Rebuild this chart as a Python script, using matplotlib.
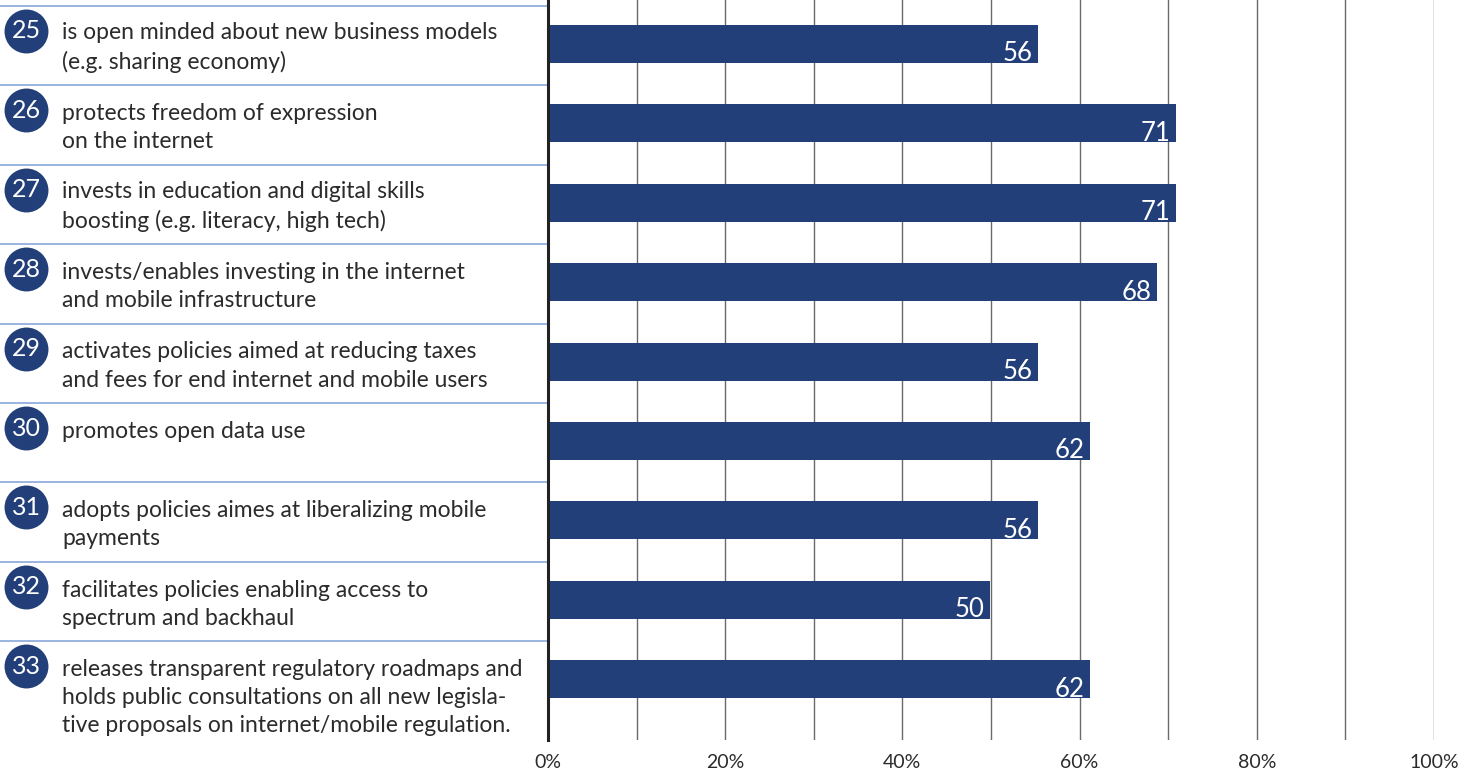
import matplotlib
matplotlib.use("Agg")
import matplotlib.pyplot as plt

plt.rcParams['font.family'] = ['Lato', 'DejaVu Sans']

numbers = ['25', '26', '27', '28', '29', '30', '31', '32', '33']
labels = [
    "is open minded about new business models\n(e.g. sharing economy)",
    "protects freedom of expression\non the internet",
    "invests in education and digital skills\nboosting (e.g. literacy, high tech)",
    "invests/enables investing in the internet\nand mobile infrastructure",
    "activates policies aimed at reducing taxes\nand fees for end internet and mobile users",
    "promotes open data use",
    "adopts policies aimes at liberalizing mobile\npayments",
    "facilitates policies enabling access to\nspectrum and backhaul",
    "releases transparent regulatory roadmaps and\nholds public consultations on all new legisla-\n"
    "tive proposals on internet/mobile regulation.",
]
bar_pct = [55.3, 70.9, 70.9, 68.7, 55.3, 61.2, 55.3, 49.9, 61.2]
value_labels = ['56', '71', '71', '68', '56', '62', '56', '50', '62']
xticks = [0, 20, 40, 60, 80, 100]

navy = '#223f79'
sep_blue = '#7f9fd8'
text_col = '#2b2b2b'

W, H = 1477, 771
fig = plt.figure(figsize=(W / 100, H / 100), dpi=100)
ax_left, ax_right, ax_top, ax_bot = 548, 1434, 0, 740
ax = fig.add_axes([ax_left / W, 1 - ax_bot / H, (ax_right - ax_left) / W, (ax_bot - ax_top) / H])

row_px = 79.4
line_px = 28.0
first_center = 44
ypos = list(range(len(labels)))
ax.set_xlim(0, 100)
ax.set_ylim((ax_bot - first_center) / row_px, -first_center / row_px)

# vertical grid
for g in range(10, 101, 10):
    ax.axvline(g, color='#6a6a6a', lw=1.0, zorder=0)

ax.barh(ypos, bar_pct, height=38 / row_px, color=navy, zorder=2)

for y, v, lab in zip(ypos, bar_pct, value_labels):
    ax.text(v - 0.6, y + 0.22, lab, color='white', fontsize=18.5,
            ha='right', va='baseline', zorder=3)

for s in ['top', 'right', 'bottom']:
    ax.spines[s].set_visible(False)
ax.spines['left'].set_color('#222222')
ax.spines['left'].set_linewidth(2.2)
ax.set_yticks([])
ax.set_xticks(xticks)
ax.set_xticklabels([f'{t}%' for t in xticks], fontsize=14, color=text_col)
ax.tick_params(axis='x', length=0, pad=10)

# left-hand label panel
px = (ax_right - ax_left) / 100.0
def xdata(xpix):
    return (xpix - ax_left) / px

for y, num, lab in zip(ypos, numbers, labels):
    nlines = lab.count('\n') + 1
    ax.plot([xdata(0), 0], [y - 38 / row_px] * 2, color=sep_blue, lw=1.1,
            clip_on=False, zorder=1)
    ax.scatter([xdata(26)], [y - 13 / row_px], s=1000, color=navy, clip_on=False, zorder=3,
               linewidths=0)
    ax.text(xdata(26), y - 13 / row_px, num, color='white', fontsize=18,
            ha='center', va='center', zorder=4, clip_on=False)
    # va='baseline' anchors the last line, so shift down by the extra lines
    ax.text(xdata(62), y + (-3 + (nlines - 1) * line_px) / row_px, lab,
            color=text_col, fontsize=16.5, ha='left', va='baseline',
            linespacing=1.42, clip_on=False)

fig.savefig('out.png', dpi=100)
